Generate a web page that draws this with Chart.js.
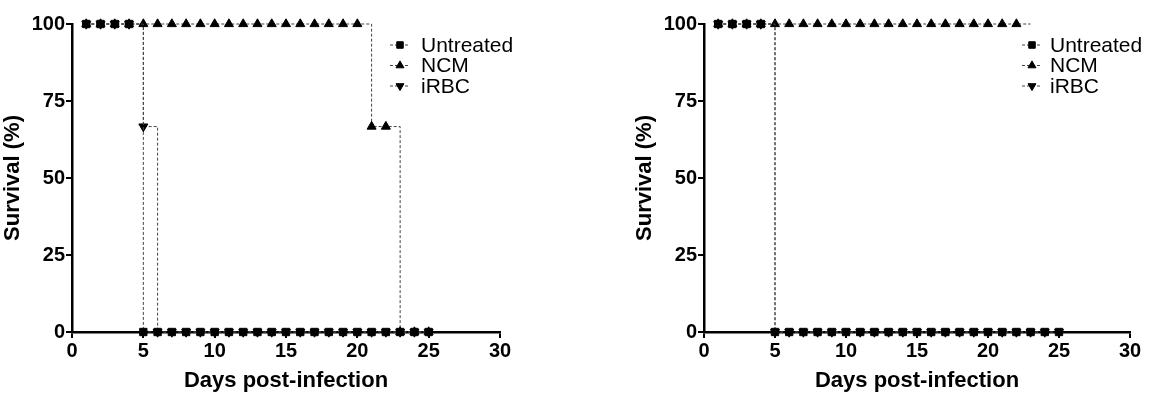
<!DOCTYPE html>
<html lang="en">
<head>
  <meta charset="UTF-8" />
  <title>Survival curves</title>
  <script src="https://cdn.jsdelivr.net/npm/chart.js"></script>
  <style>
    body { margin: 0; background: #fff; }
    .panel { position: absolute; top: 0; height: 394px; }
    #left { left: 0; width: 575px; }
    #right { left: 575px; width: 574px; }
  </style>
</head>
<body>

  <div class="panel" id="left"><canvas id="leftChart"></canvas></div>
  <div class="panel" id="right"><canvas id="rightChart"></canvas></div>

  <script>
    const days = [1, 2, 3, 4, 5, 6, 7, 8, 9, 10, 11, 12, 13, 14, 15, 16, 17, 18, 19, 20, 21, 22, 23, 24, 25];
    const seriesNames = ['Untreated', 'NCM', 'iRBC'];

    // survival (%) per day, left panel
    const leftUntreated = [100, 100, 100, 100, 0, 0, 0, 0, 0, 0, 0, 0, 0, 0, 0, 0, 0, 0, 0, 0, 0, 0, 0, 0, 0];
    const leftNCM = [100, 100, 100, 100, 100, 100, 100, 100, 100, 100, 100, 100, 100, 100, 100, 100, 100, 100, 100, 100, 66.7, 66.7, 0, 0, 0];
    const leftIRBC = [100, 100, 100, 100, 66.7, 0, 0, 0, 0, 0, 0, 0, 0, 0, 0, 0, 0, 0, 0, 0, 0, 0, 0, 0, 0];

    // right panel (NCM curve ends at day 23, no marker there)
    const rightUntreated = [100, 100, 100, 100, 0, 0, 0, 0, 0, 0, 0, 0, 0, 0, 0, 0, 0, 0, 0, 0, 0, 0, 0, 0, 0];
    const rightNCM = [100, 100, 100, 100, 100, 100, 100, 100, 100, 100, 100, 100, 100, 100, 100, 100, 100, 100, 100, 100, 100, 100, 100];
    const rightIRBC = [100, 100, 100, 100, 0, 0, 0, 0, 0, 0, 0, 0, 0, 0, 0, 0, 0, 0, 0, 0, 0, 0, 0, 0, 0];

    const xTicks = [0, 5, 10, 15, 20, 25, 30];
    const yTicks = [0, 25, 50, 75, 100];

    Chart.defaults.font.family = '"Liberation Sans", Arial, sans-serif';
    Chart.defaults.color = '#000';

    const markers = [
      { style: 'rect', rotation: 0 },
      { style: 'triangle', rotation: 0 },
      { style: 'triangle', rotation: 180 }
    ];

    function toPoints(values) {
      return values.map((v, i) => ({ x: days[i], y: v }));
    }

    function makeDataset(name, values, k, hideLast) {
      return {
        label: name,
        data: toPoints(values),
        stepped: true,
        clip: false,
        borderColor: '#444',
        borderWidth: 1,
        borderDash: [3, 2],
        pointStyle: markers[k].style,
        rotation: markers[k].rotation,
        pointRadius: ctx => (hideLast && ctx.dataIndex === values.length - 1) ? 0 : 5.2,
        pointBackgroundColor: '#000',
        pointBorderColor: '#000',
        pointBorderWidth: 1,
        fill: false
      };
    }

    // legend drawn inside the plot: dash - marker - dash, then label
    const survLegend = {
      id: 'survLegend',
      afterDraw(chart, args, opts) {
        const ctx = chart.ctx;
        ctx.save();
        chart.data.datasets.forEach((ds, i) => {
          const y = opts.y + i * 20.5;
          ctx.strokeStyle = '#444';
          ctx.lineWidth = 1;
          ctx.setLineDash([3, 2]);
          ctx.beginPath();
          ctx.moveTo(opts.x - 10, y);
          ctx.lineTo(opts.x + 10, y);
          ctx.stroke();
          ctx.setLineDash([]);
          ctx.fillStyle = '#000';
          ctx.strokeStyle = '#000';
          Chart.helpers.drawPoint(ctx, {
            pointStyle: markers[i].style,
            rotation: markers[i].rotation,
            radius: 4.6,
            borderWidth: 1
          }, opts.x, y);
          ctx.font = '21px "Liberation Sans", Arial, sans-serif';
          ctx.textBaseline = 'middle';
          ctx.fillText(ds.label, opts.textX, y + 1);
        });
        ctx.restore();
      }
    };

    function makeChart(id, series, padLeft, padRight, legendPos, hideNCMLast) {
      return new Chart(document.getElementById(id), {
        type: 'line',
        data: {
          datasets: series.map((vals, k) => makeDataset(seriesNames[k], vals, k, hideNCMLast && k === 1))
        },
        options: {
          responsive: true,
          maintainAspectRatio: false,
          animation: false,
          layout: { padding: { left: padLeft, right: padRight, top: 24, bottom: 0 } },
          plugins: {
            legend: { display: false },
            tooltip: { enabled: false },
            survLegend: legendPos
          },
          scales: {
            x: {
              type: 'linear',
              min: 0,
              max: 30,
              afterBuildTicks: s => { s.ticks = xTicks.map(v => ({ value: v })); },
              afterFit: s => { s.height = 62; },
              ticks: { font: { size: 20, weight: 'bold' }, padding: 1, maxRotation: 0 },
              grid: { drawOnChartArea: false, drawTicks: true, tickLength: 6, color: '#000', lineWidth: 2 },
              border: { display: true, color: '#000', width: 2.5 },
              title: { display: true, text: 'Days post-infection', font: { size: 22, weight: 'bold' }, padding: { top: 4, bottom: 0 } }
            },
            y: {
              min: 0,
              max: 100,
              afterBuildTicks: s => { s.ticks = yTicks.map(v => ({ value: v })); },
              afterFit: s => { s.width = 72; },
              ticks: { font: { size: 20, weight: 'bold' }, padding: 1 },
              grid: { drawOnChartArea: false, drawTicks: true, tickLength: 6, color: '#000', lineWidth: 2 },
              border: { display: true, color: '#000', width: 2.5 },
              title: { display: true, text: 'Survival (%)', font: { size: 22, weight: 'bold' }, padding: { top: 0, bottom: 0 } }
            }
          }
        },
        plugins: [survLegend]
      });
    }

    makeChart('leftChart', [leftUntreated, leftNCM, leftIRBC], 0, 75, { x: 400, y: 45, textX: 421 }, false);
    makeChart('rightChart', [rightUntreated, rightNCM, rightIRBC], 57, 19, { x: 457, y: 45, textX: 475 }, true);
  </script>

</body>
</html>
